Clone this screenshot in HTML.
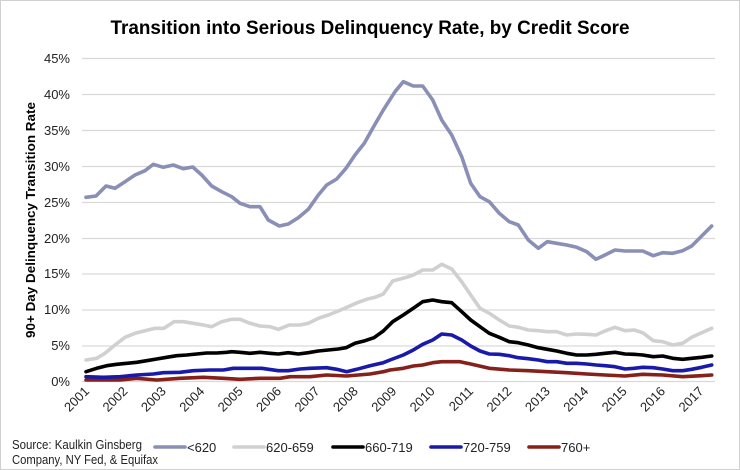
<!DOCTYPE html>
<html><head><meta charset="utf-8"><style>
html,body{margin:0;padding:0;background:#fff;}
svg{display:block;font-family:"Liberation Sans",sans-serif;}
</style></head><body>
<svg width="740" height="470" viewBox="0 0 740 470" xmlns="http://www.w3.org/2000/svg">
<rect x="0.5" y="0.5" width="739" height="469" fill="#fff" stroke="#d0d0d0"/>
<text x="370" y="34" text-anchor="middle" font-size="19" font-weight="bold" textLength="519" lengthAdjust="spacingAndGlyphs" fill="#000">Transition into Serious Delinquency Rate, by Credit Score</text>
<g stroke="#d9d9d9" stroke-width="1.2">
<line x1="82" y1="58.5" x2="715" y2="58.5"/><line x1="82" y1="94.5" x2="715" y2="94.5"/><line x1="82" y1="130.5" x2="715" y2="130.5"/><line x1="82" y1="166.5" x2="715" y2="166.5"/><line x1="82" y1="202.5" x2="715" y2="202.5"/><line x1="82" y1="238.5" x2="715" y2="238.5"/><line x1="82" y1="274" x2="715" y2="274"/><line x1="82" y1="310" x2="715" y2="310"/><line x1="82" y1="346" x2="715" y2="346"/><line x1="82" y1="381.5" x2="715" y2="381.5"/>
</g>
<g font-size="13" text-anchor="end" fill="#222">
<text x="70" y="63">45%</text><text x="70" y="99">40%</text><text x="70" y="135">35%</text><text x="70" y="171">30%</text><text x="70" y="207">25%</text><text x="70" y="243">20%</text><text x="70" y="278">15%</text><text x="70" y="314">10%</text><text x="70" y="350">5%</text><text x="70" y="386">0%</text>
</g>
<text transform="translate(35,220) rotate(-90)" text-anchor="middle" font-size="13" font-weight="bold" textLength="236" lengthAdjust="spacingAndGlyphs">90+ Day Delinquency Transition Rate</text>
<g font-size="13" text-anchor="end" fill="#222">
<text transform="translate(90,392) rotate(-45)">2001</text>
<text transform="translate(128.4,392) rotate(-45)">2002</text>
<text transform="translate(166.8,392) rotate(-45)">2003</text>
<text transform="translate(205.2,392) rotate(-45)">2004</text>
<text transform="translate(243.6,392) rotate(-45)">2005</text>
<text transform="translate(282,392) rotate(-45)">2006</text>
<text transform="translate(320.4,392) rotate(-45)">2007</text>
<text transform="translate(358.8,392) rotate(-45)">2008</text>
<text transform="translate(397.2,392) rotate(-45)">2009</text>
<text transform="translate(435.6,392) rotate(-45)">2010</text>
<text transform="translate(474,392) rotate(-45)">2011</text>
<text transform="translate(512.4,392) rotate(-45)">2012</text>
<text transform="translate(550.8,392) rotate(-45)">2013</text>
<text transform="translate(589.2,392) rotate(-45)">2014</text>
<text transform="translate(627.6,392) rotate(-45)">2015</text>
<text transform="translate(666,392) rotate(-45)">2016</text>
<text transform="translate(704.4,392) rotate(-45)">2017</text>
</g>
<g fill="none" stroke-width="3.6" stroke-linejoin="round" stroke-linecap="round">
<polyline stroke="#85201a" points="86,380 120,380 136.7,378.3 156.7,380 180,378.3 203.3,377.3 223.3,378.3 240,379.3 260,378.3 280,378.3 290,376.7 310,376.7 326.7,375 346.7,376 370,374 383.3,371.7 390,370 403.3,368.3 413.3,366 422.7,365 432.7,362.7 441.7,361.7 460,361.7 470.7,364 489.3,368.3 509.3,370 528.3,370.7 547.3,371.7 566.7,372.7 586.7,374 605,375 625,376 642.7,374.3 662.7,375 682.7,376.7 701.7,375.7 711.7,375"/>
<polyline stroke="#1a1aaa" points="86,376.7 103.3,377.3 120,376.7 136.7,375 153.3,374 163.3,372.7 180,372.3 193.3,370.7 210,370 223.3,370 233.3,368.3 250,368.3 261.7,368.3 278.3,370.7 288.3,370.7 300,369 310,368.3 326.7,367.7 336.7,369.3 346.7,371.7 356.7,369.3 370,365.7 383.3,362.7 390,360 403.3,355 413.3,350 422.7,344.3 432.7,340 441.7,334 451.7,335 461.7,340 470.7,346 480,351 489.3,354 499.3,354.3 509.3,355.7 518.3,357.7 528.3,358.7 538.3,360 547.3,361.7 556.7,361.7 566.7,363.3 576.7,363.3 586.7,364 596,365 605,365.7 615,366.7 625,369 634,368.3 642.7,367.3 653.3,367.7 662.7,369 672.7,370.7 682.7,370.7 691.7,369.3 701.7,367.3 711.7,365"/>
<polyline stroke="#000" points="86,371.7 96.7,368.3 106.7,365.7 116.7,364.3 126.7,363.3 136.7,362.3 146.7,360.7 156.7,359 166.7,357.3 176.7,355.7 186.7,355 196.7,354 206.7,353 216.7,353 226.7,352.3 231.7,351.7 240,352.3 250,353.3 260,352.3 270,353.3 278.3,354 288.3,352.7 298.3,354 308.3,352.7 318.3,351 328.3,350 338.3,349 346,347.7 355,343.3 365,340.7 374,337.7 383.3,331 392.7,321.7 403.3,315 413.3,308.3 422.7,301.7 432.7,300 441.7,301.7 451.7,302.7 461.7,311.7 470.7,320 480,326.7 489.3,333.3 499.3,337.3 509.3,341.7 518.3,342.7 528.3,345 538.3,347.7 547.3,349.3 556.7,351 566.7,353.3 576.7,355 586.7,355 596,354.3 605,353.3 615,352.3 625,354 634,354.3 642.7,355 653.3,356.7 662.7,356 672.7,358.3 682.7,359.3 691.7,358.3 701.7,357.3 711.7,356"/>
<polyline stroke="#d0d0d0" points="86,360 96.7,358.3 105,353.3 115,345 125,337.3 135,333.3 145,330.7 155,328.3 164,328.3 174,321.7 183.3,321.7 193.3,323.3 203.3,325 211.7,326.7 221.7,321.7 231.7,319.3 240,319.3 250,323.3 260,326 270,326.7 278.3,329.3 289.3,325 300,325 308.3,323.3 318.3,318.3 328.3,315 338.3,311 348.3,306.7 357.3,302.7 366.7,299.3 375,297.3 383.3,294 392.7,281 406.7,277.3 413.3,275 422.7,270 432.7,270 441.7,264.3 451.7,269 461.7,281.7 470.7,295 480,308.3 489.3,313.3 499.3,320 509.3,326 518.3,327.3 528.3,330 538.3,330.7 547.3,331.7 556.7,331.7 566.7,335 576.7,334 586.7,334.3 596,335 605,331 615,327.3 625,330.7 634,330 642.7,332.7 653.3,340.7 662.7,341.7 672.7,345 682.7,343.3 691.7,337.3 701.7,332.7 711.7,328.3"/>
<polyline stroke="#8a8fb5" points="86,197.3 96,196 106,186 115,188.3 125,181.7 135,175 145,170.7 153.3,164.3 163.3,167.3 173.3,165 183.3,168.7 192.7,167 201.7,175 211.7,186 221.7,191.7 231.7,196.7 240,203.3 250,206.7 260,206.7 268.3,220 279.3,226 288.3,224 298.3,217.7 308.3,209.3 318.3,195 326.7,185 336.7,179 346,168.3 355,155 364.3,143.3 374,126 383.3,110 395,91.7 403.3,81.7 413.3,86 422.7,86 432.7,100 441.7,120 451.7,135 461.7,156.7 470.7,183.3 480,196.7 489.3,201.7 499.3,213.3 509.3,221.7 518.3,225 528.3,240 538.3,248.3 547.3,241.7 556.7,243.3 566.7,245 576.7,247.3 586.7,251.7 596,259.3 605,255 615,250 625,251 634,251 642.7,251 653.3,255.7 662.7,252.7 672.7,253.3 682.7,250.7 691.7,246 701.7,236 711.7,226"/>
</g>
<g font-size="12.5" fill="#222">
<text x="12" y="449" textLength="130" lengthAdjust="spacingAndGlyphs">Source: Kaulkin Ginsberg</text>
<text x="12" y="464" textLength="146" lengthAdjust="spacingAndGlyphs">Company, NY Fed, &amp; Equifax</text>
</g>
<g stroke-width="3.6" stroke-linecap="round">
<line x1="155" y1="447" x2="185" y2="447" stroke="#8a8fb5"/>
<line x1="234" y1="447" x2="264" y2="447" stroke="#d0d0d0"/>
<line x1="333" y1="447" x2="363" y2="447" stroke="#000"/>
<line x1="431" y1="447" x2="461" y2="447" stroke="#1a1aaa"/>
<line x1="529" y1="447" x2="559" y2="447" stroke="#85201a"/>
</g>
<g font-size="13" fill="#222">
<text x="187" y="452">&lt;620</text>
<text x="266" y="452">620-659</text>
<text x="365" y="452">660-719</text>
<text x="463" y="452">720-759</text>
<text x="561" y="452">760+</text>
</g>
</svg>
</body></html>
